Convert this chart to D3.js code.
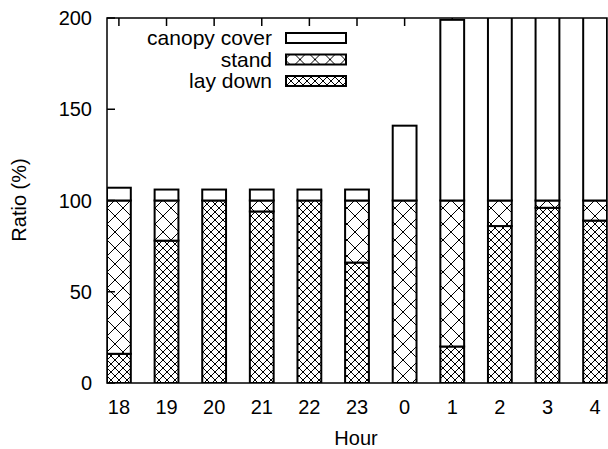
<!DOCTYPE html>
<html>
<head>
<meta charset="utf-8">
<script src="https://cdn.jsdelivr.net/npm/d3@7"></script>
<style>
  body { margin: 0; background: #fff; }
  svg { display: block; font-family: "Liberation Sans", Arial, sans-serif; }
</style>
</head>
<body>
<svg id="chart" width="608" height="449"></svg>
<script>
// hourly ratios, stacked: lay down -> stand -> canopy cover
const hours = ['18', '19', '20', '21', '22', '23', '0', '1', '2', '3', '4'];
const layDown = [16, 78, 100, 94, 100, 66, 0, 20, 86, 96, 89];
const stand = [84, 22, 0, 6, 0, 34, 100, 80, 14, 4, 11];
const canopyCover = [7, 6, 6, 6, 6, 6, 41, 99, 130, 130, 130];
const yTicks = [0, 50, 100, 150, 200];

(function() {
    const svg = d3.select('#chart');
    const margin = { left: 107, right: 1, top: 18, bottom: 66 };
    const width = 608, height = 449;
    const x0 = margin.left, x1 = width - margin.right;
    const y0 = height - margin.bottom, y1 = margin.top;
    const fs = 20;

    const rows = hours.map((h, i) => ({ hour: h, lay: layDown[i], stand: stand[i], canopy: canopyCover[i] }));
    const keys = ['lay', 'stand', 'canopy'];
    const series = d3.stack().keys(keys)(rows);

    const x = d3.scaleBand().domain(hours).range([x0, x1]).paddingInner(0.5).paddingOuter(0);
    const y = d3.scaleLinear().domain([0, 200]).range([y0, y1]);

    // hatch patterns
    const defs = svg.append('defs');
    function hatch(id, size, ox) {
        const p = defs.append('pattern').attr('id', id)
            .attr('patternUnits', 'userSpaceOnUse')
            .attr('x', ox || 0)
            .attr('width', size).attr('height', size);
        p.append('rect').attr('width', size).attr('height', size).attr('fill', '#fff');
        p.append('path')
            .attr('d', `M0,0L${size},${size}M0,${size}L${size},0`)
            .attr('stroke', '#000').attr('stroke-width', 1)
            .attr('shape-rendering', 'crispEdges').attr('fill', 'none');
    }
    hatch('hatch-stand', 16, x0);
    hatch('hatch-lay', 8, x0);
    hatch('hatch-stand-key', 15, 0);
    const fills = { lay: 'url(#hatch-lay)', stand: 'url(#hatch-stand)', canopy: '#fff' };
    const keyFills = { lay: 'url(#hatch-lay)', stand: 'url(#hatch-stand-key)', canopy: '#fff' };

    defs.append('clipPath').attr('id', 'plot-clip')
        .append('rect').attr('x', x0).attr('y', y1).attr('width', x1 - x0).attr('height', y0 - y1);

    const plot = svg.append('g').attr('clip-path', 'url(#plot-clip)');

    // top ticks (mirrored), drawn under the bars
    plot.append('g').selectAll('line').data(hours).enter().append('line')
        .attr('x1', d => x(d) + x.bandwidth() / 2).attr('x2', d => x(d) + x.bandwidth() / 2)
        .attr('y1', y1).attr('y2', y1 + 8)
        .attr('stroke', '#000').attr('stroke-width', 1.5);

    plot.selectAll('g.layer').data(series).enter().append('g')
        .attr('class', 'layer')
        .selectAll('rect').data(s => s.map(d => ({ d, key: s.key }))).enter().append('rect')
        .filter(r => r.d[1] - r.d[0] > 0)
        .attr('x', r => x(r.d.data.hour))
        .attr('width', x.bandwidth())
        .attr('y', r => y(r.d[1]))
        .attr('height', r => y(r.d[0]) - y(r.d[1]))
        .attr('fill', r => fills[r.key])
        .attr('stroke', '#000').attr('stroke-width', 2);

    // y ticks on left
    svg.append('g').selectAll('line').data(yTicks).enter().append('line')
        .attr('x1', x0).attr('x2', x0 + 8)
        .attr('y1', d => y(d)).attr('y2', d => y(d))
        .attr('stroke', '#000').attr('stroke-width', 1.5);

    // border
    svg.append('rect').attr('x', x0).attr('y', y1)
        .attr('width', x1 - x0).attr('height', y0 - y1)
        .attr('fill', 'none').attr('stroke', '#000').attr('stroke-width', 1.5);

    // tick labels
    svg.append('g').selectAll('text').data(yTicks).enter().append('text')
        .attr('x', 92).attr('y', d => y(d)).attr('dy', '0.35em')
        .attr('text-anchor', 'end').attr('font-size', fs).text(d => d);

    svg.append('g').selectAll('text').data(hours).enter().append('text')
        .attr('x', d => x(d) + x.bandwidth() / 2).attr('y', 407).attr('dy', '0.35em')
        .attr('text-anchor', 'middle').attr('font-size', fs).text(d => d);

    svg.append('text').attr('x', 356).attr('y', 438).attr('dy', '0.35em')
        .attr('text-anchor', 'middle').attr('font-size', fs).text('Hour');

    svg.append('text').attr('transform', 'translate(26,200) rotate(-90)')
        .attr('text-anchor', 'middle').attr('font-size', fs).text('Ratio (%)');

    // legend
    const legendItems = [
        { label: 'canopy cover', key: 'canopy' },
        { label: 'stand', key: 'stand' },
        { label: 'lay down', key: 'lay' }
    ];
    const legend = svg.append('g').selectAll('g').data(legendItems).enter().append('g')
        .attr('transform', (d, i) => `translate(0,${38 + i * 21.5})`);
    legend.append('text').attr('x', 272).attr('y', 0).attr('dy', '0.35em')
        .attr('text-anchor', 'end').attr('font-size', 21).text(d => d.label);
    legend.append('rect').attr('x', 286).attr('y', -5).attr('width', 60).attr('height', 10)
        .attr('fill', d => keyFills[d.key]).attr('stroke', '#000').attr('stroke-width', 2);
})();
</script>
</body>
</html>
